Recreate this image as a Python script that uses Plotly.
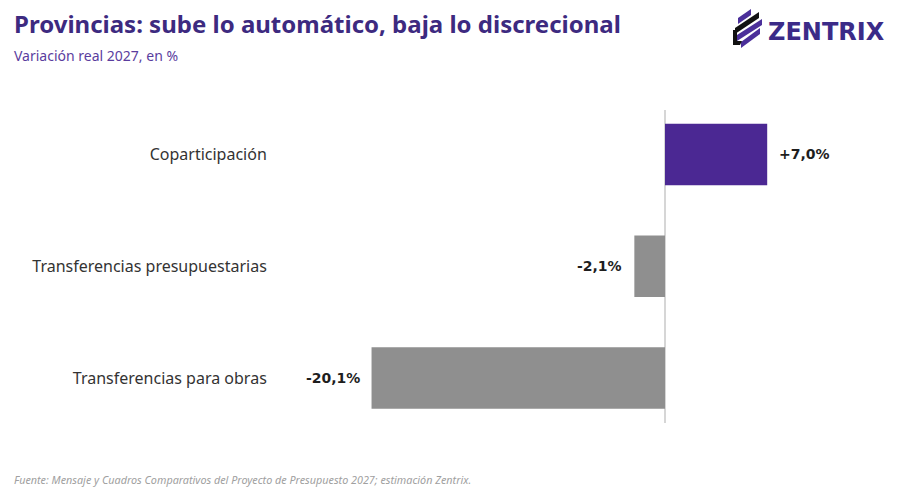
import plotly.graph_objects as go

categories = ["Transferencias para obras", "Transferencias presupuestarias", "Coparticipación"]
values = [-20.1, -2.1, 7.0]
value_labels = ["-20,1%", "-2,1%", "+7,0%"]
bar_colors = ["#8f8f8f", "#8f8f8f", "#4b2893"]

# the page offsets the figure by 8px (body margin), so the figure is drawn 8px smaller
OFF = 8
W, H = 900 - OFF, 488 - OFF
# plot area in reference pixel coords
PL, PR, PT, PB = 280, 880, 110, 423
L, R, T, B = PL - OFF, W - (PR - OFF), PT - OFF, H - (PB - OFF)
PW, PH = PR - PL, PB - PT

def px(x):
    return (x - PL) / PW

def py(y):
    return (PB - y) / PH

FONT = "Noto Sans"

fig = go.Figure()
fig.add_trace(go.Bar(
    y=categories, x=values, orientation="h",
    marker=dict(color=bar_colors, line=dict(width=0)),
    width=0.55, hoverinfo="skip",
))

annotations = []
for cat, v, lab in zip(categories, values, value_labels):
    annotations.append(dict(
        x=v, y=cat, xref="x", yref="y", text=f"<b>{lab}</b>", showarrow=False,
        xanchor="left" if v >= 0 else "right", xshift=10 if v >= 0 else -10,
        font=dict(family="DejaVu Sans", size=14, color="#1e1e1e"),
    ))

annotations.append(dict(x=px(12), y=py(23), xref="paper", yref="paper",
                        text="<b>Provincias: sube lo automático, baja lo discrecional</b>",
                        showarrow=False, xanchor="left", yanchor="middle",
                        font=dict(family=FONT, size=24, color="#3d2a80")))
annotations.append(dict(x=px(12), y=py(55), xref="paper", yref="paper",
                        text="Variación real 2027, en %", showarrow=False,
                        xanchor="left", yanchor="middle",
                        font=dict(family=FONT, size=14, color="#5a3d9e")))
annotations.append(dict(x=px(12), y=py(479), xref="paper", yref="paper",
                        text="<i>Fuente: Mensaje y Cuadros Comparativos del Proyecto de Presupuesto 2027; estimación Zentrix.</i>",
                        showarrow=False, xanchor="left", yanchor="middle",
                        font=dict(family=FONT, size=10.8, color="#a0a0a0")))
annotations.append(dict(x=px(766), y=py(32), xref="paper", yref="paper",
                        text="<b>ZENTRIX</b>", showarrow=False,
                        xanchor="left", yanchor="middle",
                        font=dict(family="DejaVu Sans", size=24, color="#3b2b88")))

shapes = []
stripes = [
    ((738, 21), (751, 12), "#4b2f9a"),
    ((735, 31), (759, 15), "#111111"),
    ((737, 38), (762, 22), "#4b2f9a"),
    ((741, 45), (760, 31), "#4b2f9a"),
]
for (x0, y0), (x1, y1), col in stripes:
    t = 3.0
    path = (f"M {px(x0)},{py(y0 - t)} L {px(x1)},{py(y1 - t)} "
            f"L {px(x1)},{py(y1 + t)} L {px(x0)},{py(y0 + t)} Z")
    shapes.append(dict(type="path", xref="paper", yref="paper", path=path,
                       fillcolor=col, line=dict(width=0)))
# black edge running down the left side and along the bottom
shapes.append(dict(type="path", xref="paper", yref="paper",
                   path=f"M {px(733)},{py(30)} L {px(737)},{py(30)} L {px(737)},{py(41)} L {px(742)},{py(41)} L {px(740)},{py(45)} L {px(733)},{py(45)} Z",
                   fillcolor="#111111", line=dict(width=0)))

fig.update_layout(
    width=W, height=H,
    margin=dict(l=L, r=R, t=T, b=B),
    paper_bgcolor="white", plot_bgcolor="white",
    showlegend=False,
    xaxis=dict(range=[(PL - 665) / 14.6, (PR - 665) / 14.6],
               showgrid=False, showticklabels=False, ticks="",
               zeroline=True, zerolinecolor="#d6d6d6", zerolinewidth=1.5,
               fixedrange=True),
    yaxis=dict(range=[-0.403, 2.398], showgrid=False, zeroline=False,
               ticks="outside", ticklen=9, tickcolor="rgba(0,0,0,0)",
               tickfont=dict(family=FONT, size=16, color="#333333"),
               fixedrange=True),
    annotations=annotations,
    shapes=shapes,
)

fig.write_html("out.html")
